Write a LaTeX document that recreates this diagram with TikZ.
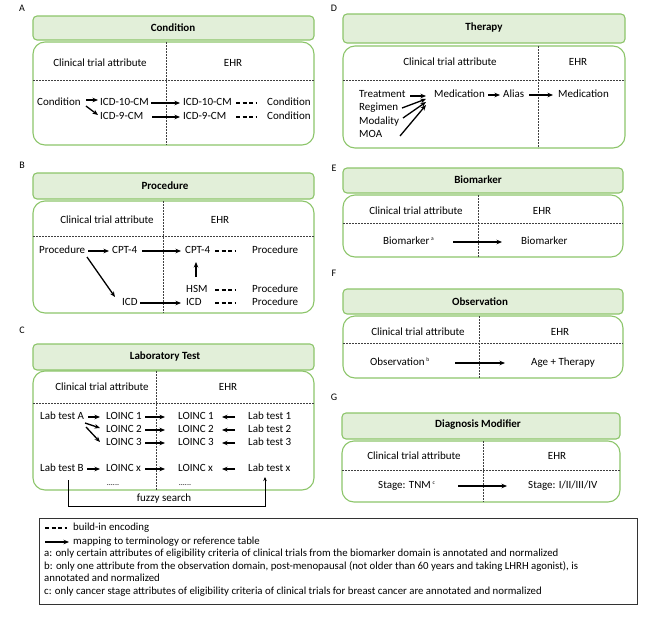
\documentclass[tikz,border=0pt]{standalone}
\usepackage{fontspec}
\setmainfont{Carlito}
\usetikzlibrary{arrows.meta,calc}
\definecolor{gfill}{HTML}{E2EFD9}
\definecolor{gline}{HTML}{8CC56A}
\begin{document}
\begin{tikzpicture}[x=1pt,y=-1pt,
  lab/.style={font=\fontsize{10}{12}\selectfont, inner sep=0pt},
  tt/.style={font=\fontsize{11}{13}\selectfont, inner sep=1pt, text height=7.5pt, text depth=2pt},
  tw/.style={tt, anchor=west},
  ttl/.style={font=\bfseries\fontsize{11}{13}\selectfont, inner sep=1pt},
  titlebox/.style={draw=gline, fill=gfill, line width=1.1pt, rounded corners=4pt},
  panelbox/.style={draw=gline, line width=1.1pt, rounded corners=12pt},
  sep/.style={draw=black!75, line width=0.6pt, dash pattern=on 2pt off 1pt},
  map/.style={-{Stealth[length=5.5pt,width=4.5pt]}, line width=1.3pt},
  enc/.style={line width=1.3pt, dash pattern=on 4pt off 2.5pt},
  fz/.style={-{Stealth[length=4pt,width=3.5pt]}, line width=0.8pt},
  leg/.style={font=\fontsize{10.8}{12.7}\selectfont, inner sep=0pt, text height=7pt, text depth=2pt, anchor=west},
  dotsty/.style={font=\fontsize{8}{8}\selectfont, inner sep=0pt}
]
\useasboundingbox (0,0) rectangle (669,616);

% ---------------- Panel A ----------------
\node[lab] (lA) at (22,8) {A};
\draw[titlebox] (33,16) rectangle (314,40);
\node[ttl] (tA) at (173,28) {Condition};
\draw[panelbox] (33,42) rectangle (314,145);
\draw[sep] (166,42) -- (166,145);
\draw[sep] (33,80) -- (314,80);
\node[tt] (hA1) at (100,64) {Clinical trial attribute};
\node[tt] (hA2) at (233,64) {EHR};
\node[tw] (condA) at (36,103) {Condition};
\node[tw] (ctI10) at (99,103) {ICD-10-CM};
\node[tw] (ctI9) at (99,117) {ICD-9-CM};
\node[tw] (ehI10) at (182,103) {ICD-10-CM};
\node[tw] (ehI9) at (182,117) {ICD-9-CM};
\node[tw] (cnd1) at (266,103) {Condition};
\node[tw] (cnd2) at (266,117) {Condition};
\draw[map] ($(condA.west)+(50,-3)$) -- ($(ctI10.west)+(-1,-3)$);
\draw[map] ($(condA.west)+(50,3)$) -- ($(ctI9.west)+(-1,-2)$);
\draw[map] ($(ctI10.west)+(52,0)$) -- ($(ehI10.west)+(-2,0)$);
\draw[map] ($(ctI9.west)+(53,0)$) -- ($(ehI9.west)+(-2,0)$);
\draw[enc] ($(ehI10.west)+(54,0)$) -- ($(cnd1.west)+(-9,0)$);
\draw[enc] ($(ehI9.west)+(54,0)$) -- ($(cnd2.west)+(-9,0)$);

% ---------------- Panel D ----------------
\node[lab] (lD) at (334,8) {D};
\draw[titlebox] (343,14) rectangle (625,43);
\node[ttl] (tD) at (484,28) {Therapy};
\draw[panelbox] (343,46) rectangle (625,148);
\draw[sep] (538,46) -- (538,148);
\draw[sep] (343,80) -- (625,80);
\node[tt] (hD1) at (450,63) {Clinical trial attribute};
\node[tt] (hD2) at (578,63) {EHR};
\node[tw] (treat) at (358,95) {Treatment};
\node[tw] (regim) at (358,108) {Regimen};
\node[tw] (modal) at (358,122) {Modality};
\node[tw] (moa) at (358,135) {MOA};
\node[tw] (med1) at (433,95) {Medication};
\node[tw] (alias) at (502,95) {Alias};
\node[tw] (med2) at (557,95) {Medication};
\draw[map] ($(treat.west)+(52,1)$) -- ($(med1.west)+(-7,1)$);
\draw[map] ($(regim.west)+(44,0)$) -- ($(med1.west)+(-7,4)$);
\draw[map] ($(modal.west)+(45,-4)$) -- ($(med1.west)+(-7,7)$);
\draw[map] ($(moa.west)+(42,1)$) -- ($(med1.west)+(-7,10)$);
\draw[map] ($(med1.west)+(55,0)$) -- ($(alias.west)+(-2,0)$);
\draw[map] ($(alias.west)+(27,0)$) -- ($(med2.west)+(-4,0)$);

% ---------------- Panel B ----------------
\node[lab] (lB) at (22,165) {B};
\draw[titlebox] (33,173) rectangle (314,199);
\node[ttl] (tB) at (165,186) {Procedure};
\draw[panelbox] (33,201) rectangle (314,313);
\draw[sep] (163,201) -- (163,313);
\draw[sep] (33,236) -- (314,236);
\node[tt] (hB1) at (107,221) {Clinical trial attribute};
\node[tt] (hB2) at (220,221) {EHR};
\node[tw] (proc) at (38,251) {Procedure};
\node[tw] (cpt) at (111,251) {CPT-4};
\node[tw] (ecpt) at (184,251) {CPT-4};
\node[tw] (prE1) at (251,251) {Procedure};
\node[tw] (hsm) at (185,290) {HSM};
\node[tw] (prE2) at (251,290) {Procedure};
\node[tw] (icd) at (121,303) {ICD};
\node[tw] (eicd) at (185,303) {ICD};
\node[tw] (prE3) at (251,303) {Procedure};
\draw[map] ($(proc.west)+(50,0)$) -- ($(cpt.west)+(-2,0)$);
\draw[map] ($(cpt.west)+(31,0)$) -- ($(ecpt.west)+(-3,0)$);
\draw[map] ($(hsm.west)+(11,-13)$) -- ($(ecpt.west)+(12,11)$);
\draw[map] ($(proc.west)+(49,6)$) -- ($(icd.west)+(-6,-6)$);
\draw[map] ($(icd.west)+(19,0)$) -- ($(eicd.west)+(-4,0)$);
\draw[enc] ($(ecpt.west)+(31,0)$) -- ($(prE1.west)+(-15,0)$);
\draw[enc] ($(hsm.west)+(30,0)$) -- ($(prE2.west)+(-15,0)$);
\draw[enc] ($(eicd.west)+(30,0)$) -- ($(prE3.west)+(-15,0)$);

% ---------------- Panel C ----------------
\node[lab] (lC) at (22,330) {C};
\draw[titlebox] (33,344) rectangle (314,370);
\node[ttl] (tC) at (165,356) {Laboratory Test};
\draw[panelbox] (33,371) rectangle (314,490);
\draw[sep] (156,371) -- (156,490);
\draw[sep] (33,403) -- (314,403);
\node[tt] (hC1) at (102,388) {Clinical trial attribute};
\node[tt] (hC2) at (228,388) {EHR};
\node[tw] (labA) at (39,417) {Lab test A};
\node[tw] (l1) at (105,417) {LOINC 1};
\node[tw] (l2) at (105,430) {LOINC 2};
\node[tw] (l3) at (105,443) {LOINC 3};
\node[tw] (e1) at (177,417) {LOINC 1};
\node[tw] (e2) at (177,430) {LOINC 2};
\node[tw] (e3) at (177,443) {LOINC 3};
\node[tw] (lt1) at (247,417) {Lab test 1};
\node[tw] (lt2) at (247,430) {Lab test 2};
\node[tw] (lt3) at (247,443) {Lab test 3};
\node[tw] (labB) at (39,469) {Lab test B};
\node[tw] (lx) at (105,469) {LOINC x};
\node[tw] (elx) at (177,469) {LOINC x};
\node[tw] (ltx) at (247,469) {Lab test x};
\node[dotsty] (dots1) at (113,485) {......};
\node[dotsty] (dots2) at (185,485) {......};
\draw[map] ($(labA.west)+(49,0)$) -- ($(l1.west)+(-5,0)$);
\draw[map] ($(labA.west)+(46,6)$) -- ($(l2.west)+(-5,-2)$);
\draw[map] ($(labA.west)+(47,10)$) -- ($(l3.west)+(-5,-1)$);
\draw[map] ($(l1.west)+(40,0)$) -- ($(e1.west)+(-12,0)$);
\draw[map] ($(l2.west)+(40,0)$) -- ($(e2.west)+(-12,0)$);
\draw[map] ($(l3.west)+(40,0)$) -- ($(e3.west)+(-12,0)$);
\draw[map] ($(lt1.west)+(-12,0)$) -- ($(e1.west)+(45,0)$);
\draw[map] ($(lt2.west)+(-12,0)$) -- ($(e2.west)+(45,0)$);
\draw[map] ($(lt3.west)+(-12,0)$) -- ($(e3.west)+(45,0)$);
\draw[map] ($(labB.west)+(48,0)$) -- ($(lx.west)+(-5,0)$);
\draw[map] ($(lx.west)+(40,0)$) -- ($(elx.west)+(-12,0)$);
\draw[map] ($(ltx.west)+(-12,0)$) -- ($(elx.west)+(45,0)$);
\coordinate (fzc) at (265,506);
\draw[fz] ($(labB.west)+(29,11)$) |- (fzc) -- ($(ltx.west)+(18,8)$);
\node[tt] (fuzzy) at (164,499) {fuzzy search};

% ---------------- Panel E ----------------
\node[lab] (lE) at (334,168) {E};
\draw[titlebox] (343,168) rectangle (623,193);
\node[ttl] (tE) at (478,180) {Biomarker};
\draw[panelbox] (343,195) rectangle (623,257);
\draw[sep] (478,195) -- (478,257);
\draw[sep] (343,223) -- (623,223);
\node[tt] (hE1) at (416,212) {Clinical trial attribute};
\node[tt] (hE2) at (542,212) {EHR};
\node[tw] (bio) at (382,242) {Biomarker\,\textsuperscript{\fontsize{5.5}{6}\selectfont a}};
\node[tw] (ebio) at (520,242) {Biomarker};
\draw[map] ($(bio.west)+(71,0)$) -- ($(ebio.west)+(-18,0)$);

% ---------------- Panel F ----------------
\node[lab] (lF) at (334,273) {F};
\draw[titlebox] (343,289) rectangle (623,314);
\node[ttl] (tF) at (480,302) {Observation};
\draw[panelbox] (343,316) rectangle (623,378);
\draw[sep] (479,316) -- (479,378);
\draw[sep] (343,343) -- (623,343);
\node[tt] (hF1) at (418,333) {Clinical trial attribute};
\node[tt] (hF2) at (560,333) {EHR};
\node[tw] (obs) at (369,363) {Observation\,\textsuperscript{\fontsize{5.5}{6}\selectfont b}};
\node[tw] (eobs) at (530,363) {Age + Therapy};
\draw[map] ($(obs.west)+(86,0)$) -- ($(eobs.west)+(-25,0)$);

% ---------------- Panel G ----------------
\node[lab] (lG) at (334,397) {G};
\draw[titlebox] (342,413) rectangle (620,439);
\node[ttl] (tG) at (478,425) {Diagnosis Modifier};
\draw[panelbox] (342,441) rectangle (620,502);
\draw[sep] (483,441) -- (483,502);
\draw[sep] (342,470) -- (620,470);
\node[tt] (hG1) at (414,457) {Clinical trial attribute};
\node[tt] (hG2) at (557,457) {EHR};
\node[tw] (tnm) at (377,486) {Stage: TNM\,\textsuperscript{\fontsize{5.5}{6}\selectfont c}};
\node[tw] (etnm) at (527,486) {Stage: I/II/III/IV};
\draw[map] ($(tnm.west)+(81,0)$) -- ($(etnm.west)+(-20,0)$);

% ---------------- Legend ----------------
\draw[draw=black!80, line width=0.8pt] (39,518) rectangle (637,604);
\node[leg] (lg1) at (73,528) {build-in encoding};
\node[leg] (lg2) at (73,542) {mapping to terminology or reference table};
\node[leg] (lga) at (44,554) {a: only certain attributes of eligibility criteria of clinical trials from the biomarker domain is annotated and normalized};
\node[leg] (lgb) at (44,567) {b: only one attribute from the observation domain, post-menopausal (not older than 60 years and taking LHRH agonist), is};
\node[leg] (lgb2) at (44,579) {annotated and normalized};
\node[leg] (lgc) at (44,592) {c: only cancer stage attributes of eligibility criteria of clinical trials for breast cancer are annotated and normalized};
\draw[enc, line width=1.1pt] ($(lg1.west)+(-28,0)$) -- ($(lg1.west)+(-6,0)$);
\draw[map, line width=1.1pt] ($(lg2.west)+(-28,0)$) -- ($(lg2.west)+(-4,0)$);
\end{tikzpicture}
\end{document}
